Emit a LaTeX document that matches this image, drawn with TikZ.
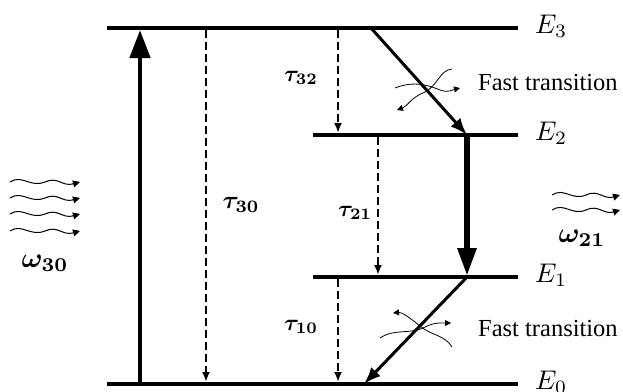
\documentclass[tikz,border=0pt]{standalone}
\usepackage{amsmath,bm,graphicx}
\usepackage{fontspec}
\setmainfont{Liberation Serif}
\usetikzlibrary{arrows.meta}
\begin{document}
\begin{tikzpicture}[x=1pt,y=-1pt,
  level/.style={line width=4pt},
  pump/.style={line width=4.5pt,-{Triangle[length=28pt,width=20pt]}},
  lasing/.style={line width=6pt,-{Triangle[length=28pt,width=18pt]}},
  decay/.style={line width=2.4pt,dash pattern=on 8pt off 4pt,-{Latex[length=10pt,width=8pt]}},
  fast/.style={line width=3pt,-{Latex[length=17pt,width=13pt]}},
  photon/.style={line width=1pt,-{Triangle[length=7pt,width=7pt]}},
  squig/.style={line width=0.8pt,-{Triangle[length=6pt,width=6pt]}},
  elabel/.style={anchor=west,inner sep=0pt},
  tlabel/.style={inner sep=0pt},
  wlabel/.style={inner sep=0pt},
  ftext/.style={anchor=west,font=\fontsize{24.5}{27}\selectfont,inner sep=0pt}]
\useasboundingbox (0,0) rectangle (623,391);
% level coordinates
\coordinate (E3l) at (107,28);  \coordinate (E3r) at (518,28);
\coordinate (E2l) at (313,135); \coordinate (E2r) at (518,135);
\coordinate (E1l) at (313,277); \coordinate (E1r) at (518,277);
\coordinate (E0l) at (107,384); \coordinate (E0r) at (518,384);
\draw[level] (E3l) -- (E3r);
\draw[level] (E2l) -- (E2r);
\draw[level] (E1l) -- (E1r);
\draw[level] (E0l) -- (E0r);
\node[elabel] (lE3) at (535,26) {\scalebox{2.7}{$E_3$}};
\node[elabel] (lE2) at (535,133) {\scalebox{2.7}{$E_2$}};
\node[elabel] (lE1) at (535,275) {\scalebox{2.7}{$E_1$}};
\node[elabel] (lE0) at (535,382) {\scalebox{2.7}{$E_0$}};
% pump
\coordinate (p0) at (140,384); \coordinate (p3) at (140,30);
\draw[pump] (p0) -- (p3);
% decays
\coordinate (d30a) at (206,30);  \coordinate (d30b) at (206,382);
\coordinate (d32a) at (338,30);  \coordinate (d32b) at (338,133);
\coordinate (d21a) at (378,137); \coordinate (d21b) at (378,275);
\coordinate (d10a) at (338,279); \coordinate (d10b) at (338,382);
\draw[decay] (d30a) -- (d30b);
\draw[decay] (d32a) -- (d32b);
\draw[decay] (d21a) -- (d21b);
\draw[decay] (d10a) -- (d10b);
\node[tlabel] (t30) at (241,205) {\scalebox{2.5}{$\boldsymbol{\tau_{30}}$}};
\node[tlabel] (t32) at (301,78) {\scalebox{2.3}{$\boldsymbol{\tau_{32}}$}};
\node[tlabel] (t21) at (355,213) {\scalebox{2.3}{$\boldsymbol{\tau_{21}}$}};
\node[tlabel] (t10) at (301,327) {\scalebox{2.3}{$\boldsymbol{\tau_{10}}$}};
% fast transitions and lasing
\coordinate (f3) at (371,28);  \coordinate (f2) at (467,135);
\coordinate (f1) at (467,277); \coordinate (f0) at (364,384);
\coordinate (l2) at (467,137); \coordinate (l1) at (467,276);
\draw[fast] (f3) -- (f2);
\draw[lasing] (l2) -- (l1);
\draw[fast] (f1) -- (f0);
\node[ftext] (ft1) at (478,83) {Fast transition};
\node[ftext] (ft2) at (478,329) {Fast transition};
% squiggles near fast transitions
\coordinate (s1a) at (395,88); \coordinate (s1b) at (460,88);
\draw[squig] (s1a) .. controls (415,80) and (430,86) .. (440,90) .. controls (448,93) and (452,90) .. (s1b);
\coordinate (s2a) at (452,69); \coordinate (s2b) at (397,110);
\draw[squig] (s2a) .. controls (440,70) and (438,85) .. (425,92) .. controls (410,98) and (408,106) .. (s2b);
\coordinate (s3a) at (380,338); \coordinate (s3b) at (451,323);
\draw[squig] (s3a) .. controls (395,328) and (410,335) .. (425,327) .. controls (435,322) and (442,323) .. (s3b);
\coordinate (s4a) at (452,347); \coordinate (s4b) at (393,313);
\draw[squig] (s4a) .. controls (445,335) and (430,335) .. (420,326) .. controls (410,318) and (402,312) .. (s4b);
% incoming photons omega30
\foreach \yy/\nm in {182/a,198/b,214/c,231/d}{
  \coordinate (w30\nm s) at (10,\yy);
  \coordinate (w30\nm e) at (80,\yy);
  \draw[photon] (w30\nm s) .. controls (22,\yy-8) and (30,\yy+6) .. (45,\yy)
     .. controls (58,\yy-6) and (62,\yy+5) .. (w30\nm e);
}
\node[wlabel] (w30) at (45,263) {\scalebox{2.8}{$\boldsymbol{\omega_{30}}$}};
% emitted photons omega21
\foreach \yy/\nm in {195/a,210/b}{
  \coordinate (w21\nm s) at (552,\yy);
  \coordinate (w21\nm e) at (620,\yy);
  \draw[photon] (w21\nm s) .. controls (564,\yy-8) and (572,\yy+6) .. (586,\yy)
     .. controls (598,\yy-6) and (604,\yy+5) .. (w21\nm e);
}
\node[wlabel] (w21) at (582,238) {\scalebox{2.8}{$\boldsymbol{\omega_{21}}$}};
\end{tikzpicture}
\end{document}
